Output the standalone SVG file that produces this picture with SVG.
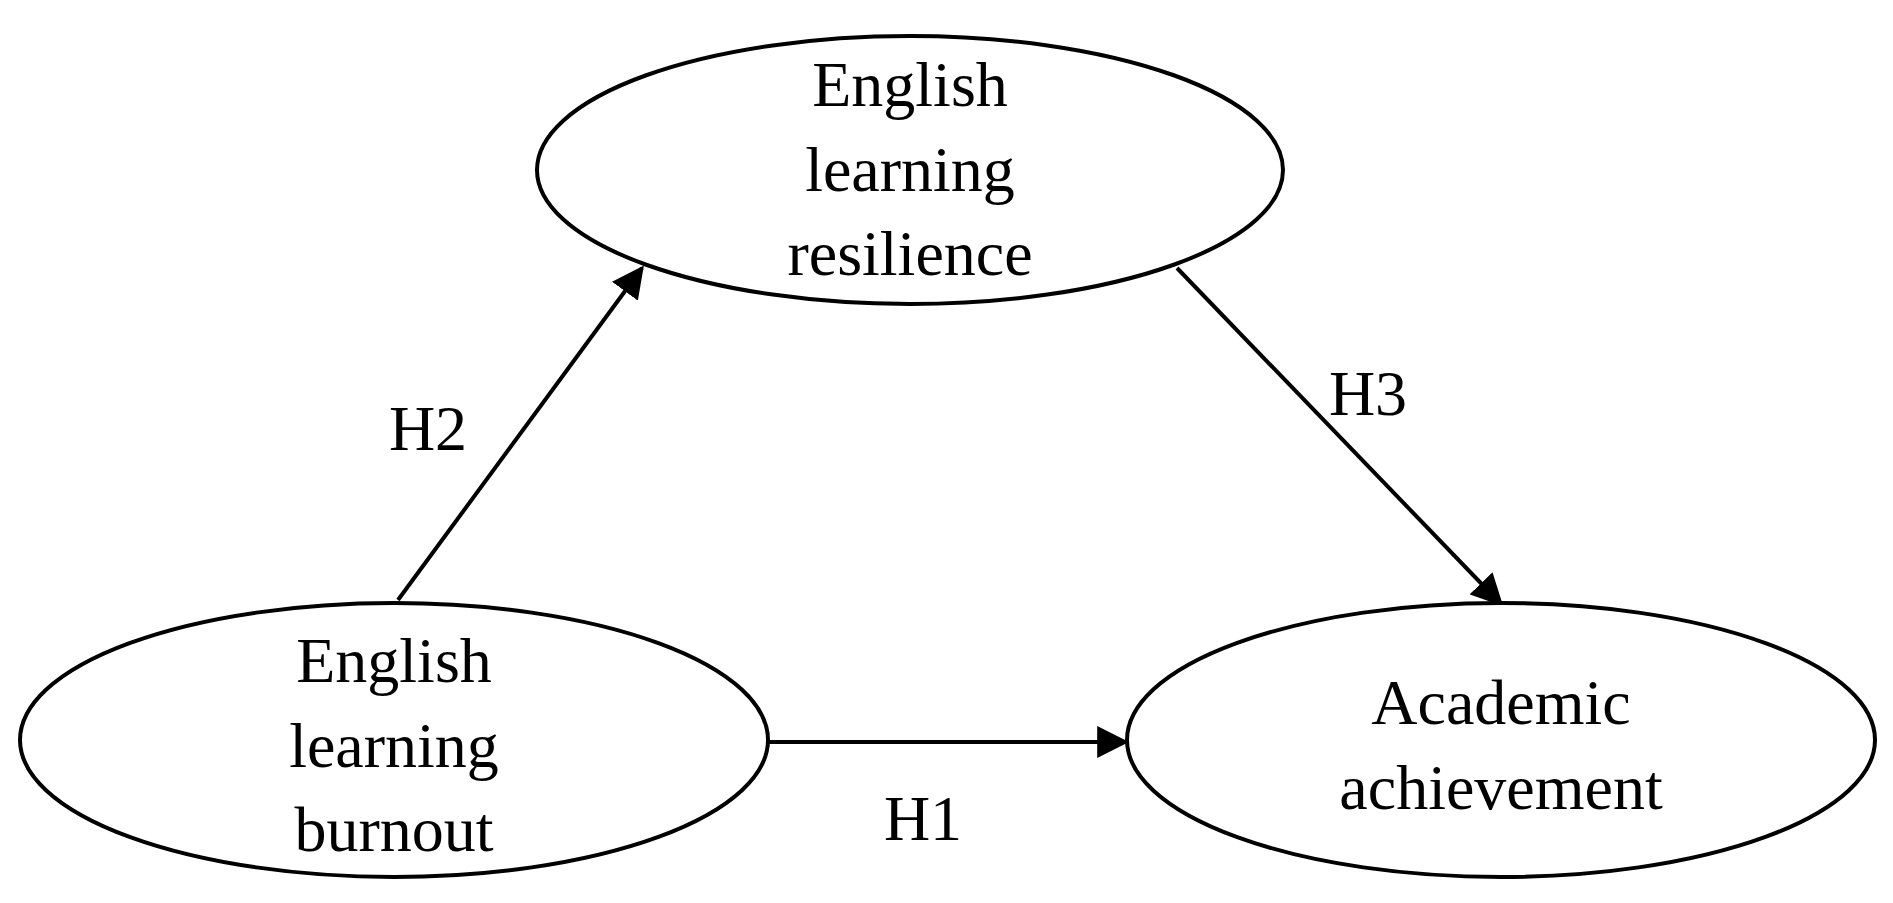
<svg xmlns="http://www.w3.org/2000/svg" width="1893" height="903" viewBox="0 0 1893 903">
<style>
.n{fill:#fff;stroke:#000;stroke-width:4}
.t{font-family:"Liberation Serif",serif;font-size:64px;text-anchor:middle;fill:#000}
.c{stroke:#000;stroke-width:4;fill:none;marker-end:url(#a)}
</style>
<defs><marker id="a" viewBox="0 0 10 10" refX="9" refY="5" markerWidth="7" markerHeight="7" markerUnits="userSpaceOnUse" orient="auto"><path d="M0,0L10,5L0,10z" fill="#000"/></marker></defs>
<defs><marker id="b" viewBox="0 0 10 10" refX="9" refY="5" markerWidth="8" markerHeight="8" orient="auto"><path d="M0,0L10,5L0,10z" fill="#000"/></marker></defs>
<rect width="1893" height="903" fill="#fff"/>
<g id="connectors">
<line x1="398" y1="600" x2="642" y2="268" stroke="#000" stroke-width="4" marker-end="url(#b)"/>
<line x1="1177" y1="268" x2="1501" y2="604" stroke="#000" stroke-width="4" marker-end="url(#b)"/>
<line x1="768" y1="742" x2="1126" y2="742" stroke="#000" stroke-width="4" marker-end="url(#b)"/>
<text class="t" x="428" y="450">H2</text>
<text class="t" x="1368" y="415">H3</text>
<text class="t" x="923" y="840">H1</text>
</g>
<g id="resilience"><ellipse class="n" cx="910" cy="170" rx="373" ry="134"/>
<text class="t" x="910" y="106">English</text><text class="t" x="910" y="191">learning</text><text class="t" x="910" y="275">resilience</text></g>
<g id="burnout"><ellipse class="n" cx="394" cy="740" rx="374" ry="137"/>
<text class="t" x="394" y="682">English</text><text class="t" x="394" y="767">learning</text><text class="t" x="394" y="851">burnout</text></g>
<g id="achievement"><ellipse class="n" cx="1501" cy="740" rx="374" ry="137"/>
<text class="t" x="1501" y="724">Academic</text><text class="t" x="1501" y="809">achievement</text></g>
</svg>
